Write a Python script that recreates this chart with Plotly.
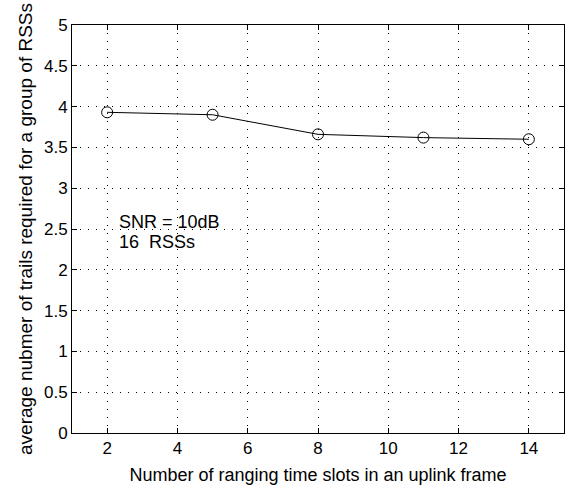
import plotly.graph_objects as go

slots = [2, 5, 8, 11, 14]
avg_trials = [3.93, 3.90, 3.66, 3.62, 3.60]
x_ticks = [2, 4, 6, 8, 10, 12, 14]
y_ticks = [0, 0.5, 1, 1.5, 2, 2.5, 3, 3.5, 4, 4.5, 5]
y_tick_text = ["0", "0.5", "1", "1.5", "2", "2.5", "3", "3.5", "4", "4.5", "5"]

font = "Liberation Sans, Arial, Helvetica, sans-serif"

fig = go.Figure()
fig.add_trace(go.Scatter(
    x=slots, y=avg_trials, mode="lines+markers",
    line=dict(color="black", width=1),
    marker=dict(symbol="circle-open", size=11, color="black", line=dict(width=1)),
    showlegend=False,
))

fig.add_annotation(x=2.28, y=2.59, xref="x", yref="y", text="SNR = 10dB",
                   showarrow=False, xanchor="left", yanchor="middle",
                   font=dict(family=font, size=18, color="black"))
fig.add_annotation(x=2.28, y=2.34, xref="x", yref="y", text="16  RSSs",
                   showarrow=False, xanchor="left", yanchor="middle",
                   font=dict(family=font, size=18, color="black"))

axis_common = dict(
    showline=True, linecolor="black", linewidth=1, mirror="ticks",
    ticks="inside", ticklen=5, tickcolor="black",
    showgrid=True, gridcolor="black", gridwidth=1, griddash="1px,7px",
    zeroline=False, automargin=False,
    tickfont=dict(family=font, size=17, color="black"),
)

fig.update_xaxes(range=[1, 15], tickvals=x_ticks,
                 title=dict(text="Number of ranging time slots in an uplink frame",
                            font=dict(family=font, size=18, color="black"), standoff=10),
                 **axis_common)
fig.update_yaxes(range=[0, 5], tickvals=y_ticks, ticktext=y_tick_text,
                 title=dict(text="average nubmer of trails required for a group of RSSs",
                            font=dict(family=font, size=19, color="black"), standoff=6),
                 **axis_common)

fig.update_layout(
    width=567, height=489,
    margin=dict(l=72, r=3, t=25, b=56),
    paper_bgcolor="white", plot_bgcolor="white",
    font=dict(family=font, color="black"),
)

fig.write_html("out.html", config={"displayModeBar": False},
               post_script="document.body.style.margin='0';document.body.style.overflow='hidden';")
